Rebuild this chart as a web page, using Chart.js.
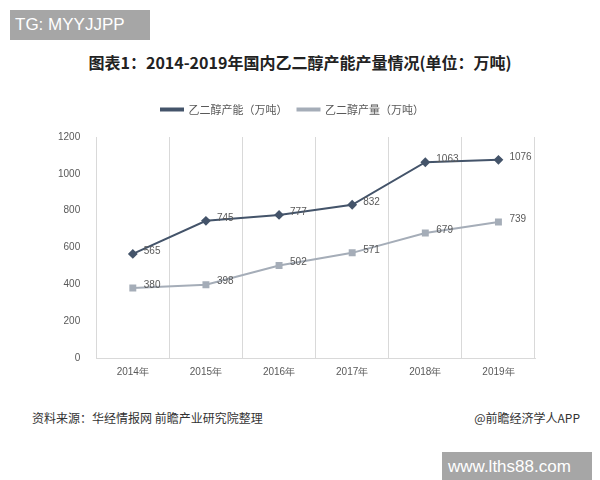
<!DOCTYPE html>
<html>
<head>
<meta charset="utf-8">
<script src="https://cdn.jsdelivr.net/npm/chart.js@4.4.0/dist/chart.umd.min.js"></script>
<style>
  body { margin: 0; background: #fff; font-family: "Noto Sans CJK SC", sans-serif; }
  #wrap { position: relative; width: 600px; height: 480px; overflow: hidden; }
  .box { position: absolute; background: #a6a6a6; color: #fff; font-family: "Liberation Sans", sans-serif; }
  #tg { left: 10px; top: 10px; width: 140px; height: 30px; font-size: 17px; line-height: 30px; padding-left: 5px; box-sizing: border-box; }
  #www { left: 442px; top: 452px; width: 150px; height: 30px; font-size: 17px; line-height: 30px; padding-left: 6px; box-sizing: border-box; }
  #title { position: absolute; top: 50px; left: 0; width: 600px; text-align: center; font-size: 16px; font-weight: bold; color: #222; }
  #src { position: absolute; top: 409px; left: 32px; font-size: 12px; color: #333; }
  #app { position: absolute; top: 409px; right: 20px; font-size: 12px; color: #333; }
  #c { position: absolute; left: 50px; top: 94px; }
</style>
</head>
<body>
<div id="wrap">
  <div id="tg" class="box">TG: MYYJJPP</div>
  <div id="title">图表1：2014-2019年国内乙二醇产能产量情况(单位：万吨)</div>
  <canvas id="c" width="500" height="292"></canvas>
  <div id="src">资料来源：华经情报网 前瞻产业研究院整理</div>
  <div id="app">@前瞻经济学人APP</div>
  <div id="www" class="box">www.lths88.com</div>
</div>
<script>
let years = ["2014年", "2015年", "2016年", "2017年", "2018年", "2019年"]
let capacity = [565, 745, 777, 832, 1063, 1076]
let output = [380, 398, 502, 571, 679, 739]

// draw value labels next to each point
const valueLabels = {
  id: "valueLabels",
  afterDatasetsDraw(chart) {
    let ctx = chart.ctx
    ctx.save()
    ctx.font = "10px 'Liberation Sans', sans-serif"
    ctx.fillStyle = "#595959"
    ctx.textBaseline = "middle"
    chart.data.datasets.forEach((ds, i) => {
      chart.getDatasetMeta(i).data.forEach((pt, j) => {
        ctx.fillText(ds.data[j], pt.x + 11, pt.y - 3)
      })
    })
    ctx.restore()
  }
}

// extra gap under the legend
const legendGap = {
  id: "legendGap",
  beforeInit(chart) {
    const fit = chart.legend.fit
    chart.legend.fit = function () {
      fit.bind(chart.legend)()
      this.height += 12
    }
  }
}

new Chart(document.getElementById("c"), {
  type: "line",
  data: {
    labels: years,
    datasets: [{
      label: "乙二醇产能（万吨）",
      data: capacity,
      borderColor: "#44546a",
      backgroundColor: "#44546a",
      borderWidth: 2,
      pointStyle: "rectRot",
      pointRadius: 3.5,
      tension: 0
    }, {
      label: "乙二醇产量（万吨）",
      data: output,
      borderColor: "#a5adb8",
      backgroundColor: "#a5adb8",
      borderWidth: 2,
      pointStyle: "rect",
      pointRadius: 3.5,
      tension: 0
    }]
  },
  options: {
    responsive: false,
    animation: false,
    layout: { padding: { right: 15 } },
    plugins: {
      legend: {
        labels: { usePointStyle: false, boxWidth: 22, boxHeight: 2, color: "#595959",
          font: { size: 11, family: "'Noto Sans CJK SC'" } }
      },
      tooltip: { enabled: false }
    },
    scales: {
      x: {
        offset: true,
        grid: { offset: true, color: "#d9d9d9", drawTicks: false },
        border: { color: "#d9d9d9" },
        ticks: { color: "#595959", padding: 8, font: { size: 10 } }
      },
      y: {
        min: 0, max: 1200,
        ticks: { stepSize: 200, color: "#595959", padding: 8, font: { size: 10, family: "'Liberation Sans'" },
          callback: (v) => String(v) },
        grid: { display: false },
        border: { display: false }
      }
    }
  },
  plugins: [valueLabels, legendGap]
})
</script>
</body>
</html>
